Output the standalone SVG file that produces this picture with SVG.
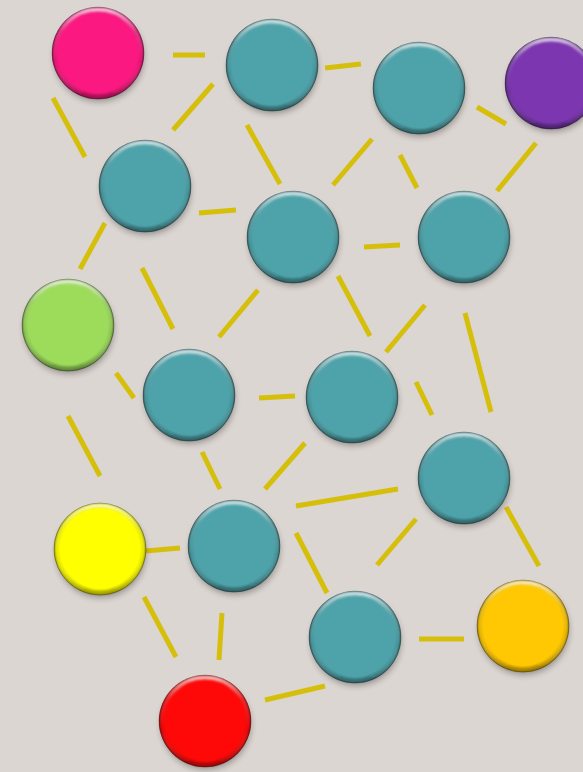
<svg xmlns="http://www.w3.org/2000/svg" width="583" height="772" viewBox="0 0 583 772">
<defs>
<style>
.bg{fill:#dcd6d2}
.edge line{stroke:#d6bf0b;stroke-width:5;stroke-linecap:butt}
.shadow{fill:#000;opacity:0.3;filter:url(#blur3)}
.rim{fill:url(#rimG);stroke:#000;stroke-opacity:0.3;stroke-width:1}
.hl{fill:none;stroke:url(#hlG);stroke-width:4;filter:url(#blur1)}
.teal{fill:#4ea3aa}
.pink{fill:#fb1880}
.purple{fill:#7b36b0}
.green{fill:#9ddc5b}
.yellow{fill:#ffff00}
.orange{fill:#ffc802}
.red{fill:#ff0808}
</style>
<filter id="blur3" x="-30%" y="-30%" width="160%" height="160%"><feGaussianBlur stdDeviation="3"/></filter>
<filter id="blur1" x="-20%" y="-20%" width="140%" height="140%"><feGaussianBlur stdDeviation="1"/></filter>
<radialGradient id="rimG" cx="0.5" cy="0.5" r="0.5">
<stop offset="0.86" stop-color="#000" stop-opacity="0"/>
<stop offset="0.95" stop-color="#000" stop-opacity="0.12"/>
<stop offset="1" stop-color="#000" stop-opacity="0.4"/>
</radialGradient>
<linearGradient id="hlG" x1="0" y1="0" x2="0" y2="1">
<stop offset="0" stop-color="#fff" stop-opacity="0.7"/>
<stop offset="0.25" stop-color="#fff" stop-opacity="0.15"/>
<stop offset="0.6" stop-color="#fff" stop-opacity="0"/>
<stop offset="1" stop-color="#000" stop-opacity="0.25"/>
</linearGradient>
<g id="btn">
<circle class="shadow" cx="1" cy="4" r="45"/>
</g>
</defs>
<rect class="bg" x="0" y="0" width="583" height="772"/>
<g id="connectors" class="edge">
<line x1="173" y1="55" x2="205" y2="55"/>
<line x1="213" y1="84" x2="173" y2="130"/>
<line x1="53" y1="98" x2="85" y2="157"/>
<line x1="325" y1="68" x2="361" y2="64"/>
<line x1="247" y1="125" x2="280" y2="184"/>
<line x1="372" y1="139" x2="333" y2="185"/>
<line x1="400" y1="155" x2="417" y2="188"/>
<line x1="477" y1="107" x2="506" y2="124"/>
<line x1="536" y1="143" x2="497" y2="191"/>
<line x1="199" y1="213" x2="236" y2="210"/>
<line x1="364" y1="247" x2="400" y2="245"/>
<line x1="105" y1="223" x2="80" y2="269"/>
<line x1="142" y1="268" x2="173" y2="329"/>
<line x1="258" y1="290" x2="219" y2="337"/>
<line x1="338" y1="276" x2="370" y2="336"/>
<line x1="425" y1="305" x2="386" y2="352"/>
<line x1="465" y1="313" x2="491" y2="412"/>
<line x1="116" y1="373" x2="134" y2="398"/>
<line x1="68" y1="416" x2="100" y2="476"/>
<line x1="259" y1="398" x2="295" y2="396"/>
<line x1="416" y1="382" x2="432" y2="415"/>
<line x1="202" y1="452" x2="220" y2="489"/>
<line x1="305" y1="443" x2="265" y2="489"/>
<line x1="296" y1="506" x2="398" y2="489"/>
<line x1="416" y1="519" x2="377" y2="565"/>
<line x1="506" y1="507" x2="539" y2="566"/>
<line x1="145" y1="551" x2="180" y2="548"/>
<line x1="296" y1="533" x2="327" y2="593"/>
<line x1="144" y1="597" x2="176" y2="657"/>
<line x1="222" y1="613" x2="219" y2="660"/>
<line x1="419" y1="639" x2="464" y2="639"/>
<line x1="265" y1="700" x2="325" y2="686"/>
</g>
<g id="n1" transform="translate(98,53)"><use href="#btn"/><circle class="pink" r="46"/><circle class="rim" r="46"/><circle class="hl" r="43.5"/></g>
<g id="n2" transform="translate(272,65)"><use href="#btn"/><circle class="teal" r="46"/><circle class="rim" r="46"/><circle class="hl" r="43.5"/></g>
<g id="n3" transform="translate(419,88)"><use href="#btn"/><circle class="teal" r="46"/><circle class="rim" r="46"/><circle class="hl" r="43.5"/></g>
<g id="n4" transform="translate(551,83)"><use href="#btn"/><circle class="purple" r="46"/><circle class="rim" r="46"/><circle class="hl" r="43.5"/></g>
<g id="n5" transform="translate(145,186)"><use href="#btn"/><circle class="teal" r="46"/><circle class="rim" r="46"/><circle class="hl" r="43.5"/></g>
<g id="n6" transform="translate(293,237)"><use href="#btn"/><circle class="teal" r="46"/><circle class="rim" r="46"/><circle class="hl" r="43.5"/></g>
<g id="n7" transform="translate(464,237)"><use href="#btn"/><circle class="teal" r="46"/><circle class="rim" r="46"/><circle class="hl" r="43.5"/></g>
<g id="n8" transform="translate(68,325)"><use href="#btn"/><circle class="green" r="46"/><circle class="rim" r="46"/><circle class="hl" r="43.5"/></g>
<g id="n9" transform="translate(189,395)"><use href="#btn"/><circle class="teal" r="46"/><circle class="rim" r="46"/><circle class="hl" r="43.5"/></g>
<g id="n10" transform="translate(352,397)"><use href="#btn"/><circle class="teal" r="46"/><circle class="rim" r="46"/><circle class="hl" r="43.5"/></g>
<g id="n11" transform="translate(464,478)"><use href="#btn"/><circle class="teal" r="46"/><circle class="rim" r="46"/><circle class="hl" r="43.5"/></g>
<g id="n12" transform="translate(100,549)"><use href="#btn"/><circle class="yellow" r="46"/><circle class="rim" r="46"/><circle class="hl" r="43.5"/></g>
<g id="n13" transform="translate(234,546)"><use href="#btn"/><circle class="teal" r="46"/><circle class="rim" r="46"/><circle class="hl" r="43.5"/></g>
<g id="n14" transform="translate(355,637)"><use href="#btn"/><circle class="teal" r="46"/><circle class="rim" r="46"/><circle class="hl" r="43.5"/></g>
<g id="n15" transform="translate(523,626)"><use href="#btn"/><circle class="orange" r="46"/><circle class="rim" r="46"/><circle class="hl" r="43.5"/></g>
<g id="n16" transform="translate(205,721)"><use href="#btn"/><circle class="red" r="46"/><circle class="rim" r="46"/><circle class="hl" r="43.5"/></g>
</svg>
